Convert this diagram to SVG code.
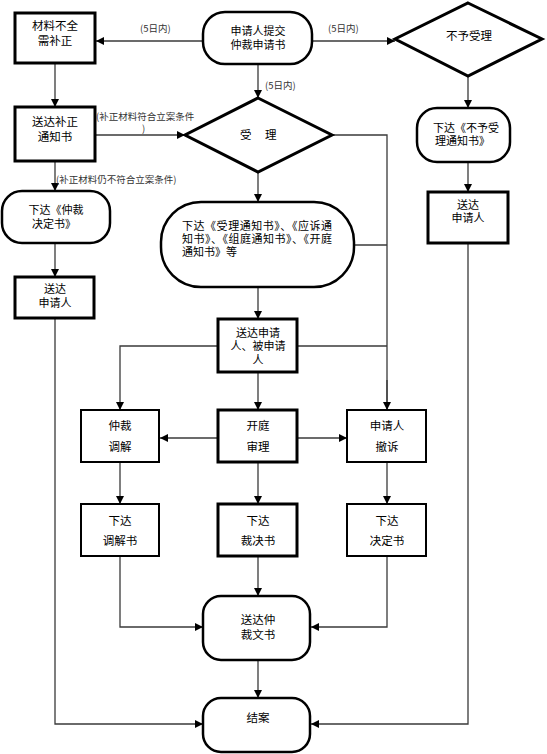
<svg xmlns="http://www.w3.org/2000/svg" width="547" height="754" viewBox="0 0 547 754">
<defs>
<marker id="arr" markerUnits="userSpaceOnUse" markerWidth="9" markerHeight="9" refX="8" refY="4" orient="auto">
<path d="M0,0 L8,4 L0,8 z" fill="#000"/>
</marker>
<style>
.t{font-family:"Noto Sans CJK SC","Liberation Sans",sans-serif;font-size:11.5px;fill:#000;text-anchor:middle}
.tl{font-family:"Noto Sans CJK SC","Liberation Sans",sans-serif;font-size:11.5px;fill:#000}
.tn{font-family:"Noto Sans CJK SC","Liberation Sans",sans-serif;font-size:11px;fill:#000;text-anchor:middle}
.tnl{font-family:"Noto Sans CJK SC","Liberation Sans",sans-serif;font-size:11px;fill:#000}
.lb{font-family:"Noto Sans CJK SC","Liberation Sans",sans-serif;font-size:9.5px;fill:#333}
.thick{fill:#fff;stroke:#000;stroke-width:3}
.pill{fill:#fff;stroke:#000;stroke-width:2.5}
.med{fill:#fff;stroke:#000;stroke-width:2}
.c{fill:none;stroke:#3a3a3a;stroke-width:1.3}
.ca{fill:none;stroke:#3a3a3a;stroke-width:1.3;marker-end:url(#arr)}
</style>
</defs>
<rect width="547" height="754" fill="#fff"/>

<g id="connectors">
<line class="ca" x1="203" y1="41" x2="96" y2="41"/>
<line class="ca" x1="312" y1="41" x2="395" y2="41"/>
<line class="ca" x1="258" y1="64" x2="258" y2="98"/>
<line class="ca" x1="55" y1="63" x2="55" y2="107"/>
<line class="ca" x1="95" y1="135" x2="185" y2="135"/>
<line class="ca" x1="55" y1="161" x2="55" y2="191"/>
<line class="ca" x1="55" y1="243" x2="55" y2="277"/>
<line class="ca" x1="468" y1="76" x2="468" y2="108"/>
<line class="ca" x1="468" y1="162" x2="468" y2="192"/>
<polyline class="ca" points="468,243 468,724 311,724"/>
<polyline class="c" points="332,135 387,135 387,410"/>
<line class="ca" x1="387" y1="380" x2="387" y2="410"/>
<line class="c" x1="354" y1="245" x2="387" y2="245"/>
<line class="c" x1="297" y1="346" x2="387" y2="346"/>
<line class="ca" x1="258" y1="172" x2="258" y2="202"/>
<line class="ca" x1="258" y1="287" x2="258" y2="319"/>
<polyline class="ca" points="218,346 120,346 120,410"/>
<line class="ca" x1="258" y1="372" x2="258" y2="410"/>
<line class="ca" x1="218" y1="438" x2="160" y2="438"/>
<line class="ca" x1="297" y1="438" x2="347" y2="438"/>
<line class="ca" x1="120" y1="462" x2="120" y2="504"/>
<line class="ca" x1="258" y1="462" x2="258" y2="504"/>
<line class="ca" x1="387" y1="462" x2="387" y2="504"/>
<polyline class="ca" points="120,556 120,627 203,627"/>
<polyline class="ca" points="387,556 387,627 311,627"/>
<line class="ca" x1="258" y1="556" x2="258" y2="596"/>
<line class="ca" x1="258" y1="660" x2="258" y2="698"/>
<polyline class="ca" points="55,318 55,724 203,724"/>
<text class="lb" x="140" y="32">(5日内)</text>
<text class="lb" x="328" y="32">(5日内)</text>
<text class="lb" x="265" y="89">(5日内)</text>
<text class="lb" x="96" y="120">(补正材料符合立案条件</text>
<text class="lb" x="142" y="132">)</text>
<text class="lb" x="56" y="183">(补正材料仍不符合立案条件)</text>
</g>

<g id="n_bq">
<rect class="thick" x="15" y="13" width="80" height="50"/>
<text class="t" x="55" y="30">材料不全</text>
<text class="t" x="55" y="45">需补正</text>
</g>
<g id="n_apply">
<rect class="pill" x="203" y="12" width="109" height="52" rx="22" ry="22"/>
<text class="tn" x="258" y="35">申请人提交</text>
<text class="tn" x="258" y="49">仲裁申请书</text>
</g>
<g id="n_reject">
<polygon class="thick" points="468,3 542,39 468,76 395,39"/>
<text class="t" x="469" y="40">不予受理</text>
</g>
<g id="n_notice">
<rect class="thick" x="15" y="107" width="80" height="54"/>
<text class="t" x="55" y="126">送达补正</text>
<text class="t" x="55" y="141">通知书</text>
</g>
<g id="n_accept">
<polygon class="thick" points="258,98 332,135 258,172 185,135"/>
<text class="tl" x="240" y="139">受</text>
<text class="tl" x="265" y="139">理</text>
</g>
<g id="n_rejnotice">
<rect class="pill" x="417" y="108" width="93" height="54" rx="20" ry="20"/>
<text class="tnl" x="433" y="132">下达《不予受</text>
<text class="tnl" x="435" y="145">理通知书》</text>
</g>
<g id="n_decision">
<rect class="pill" x="2" y="191" width="108" height="52" rx="20" ry="20"/>
<text class="tn" x="56" y="214">下达《仲裁</text>
<text class="tn" x="54" y="228">决定书》</text>
</g>
<g id="n_serve_l">
<rect class="thick" x="15" y="277" width="79" height="41"/>
<text class="tn" x="55" y="293">送达</text>
<text class="tn" x="55" y="307">申请人</text>
</g>
<g id="n_big">
<rect class="pill" x="161" y="202" width="193" height="85" rx="40" ry="40"/>
<text class="tnl" x="182" y="230" textLength="150">下达《受理通知书》、《应诉通</text>
<text class="tnl" x="182" y="243" textLength="150">知书》、《组庭通知书》、《开庭</text>
<text class="tnl" x="182" y="256">通知书》等</text>
</g>
<g id="n_serve_r">
<rect class="thick" x="428" y="192" width="80" height="51"/>
<text class="tn" x="468" y="209">送达</text>
<text class="tn" x="468" y="222">申请人</text>
</g>
<g id="n_serve_both">
<rect class="thick" x="218" y="319" width="79" height="53"/>
<text class="tn" x="258" y="337">送达申请</text>
<text class="tn" x="258" y="350">人、被申请</text>
<text class="tn" x="258" y="364">人</text>
</g>
<g id="n_mediate">
<rect class="med" x="81" y="410" width="78" height="52"/>
<text class="t" x="120" y="430">仲裁</text>
<text class="t" x="120" y="451">调解</text>
</g>
<g id="n_hearing">
<rect class="thick" x="218" y="410" width="79" height="52"/>
<text class="t" x="258" y="430">开庭</text>
<text class="t" x="258" y="451">审理</text>
</g>
<g id="n_withdraw">
<rect class="med" x="347" y="410" width="79" height="52"/>
<text class="t" x="387" y="430">申请人</text>
<text class="t" x="387" y="451">撤诉</text>
</g>
<g id="n_medbook">
<rect class="med" x="81" y="504" width="78" height="52"/>
<text class="t" x="120" y="525">下达</text>
<text class="t" x="120" y="545">调解书</text>
</g>
<g id="n_award">
<rect class="thick" x="218" y="504" width="79" height="52"/>
<text class="t" x="258" y="525">下达</text>
<text class="t" x="258" y="545">裁决书</text>
</g>
<g id="n_decbook">
<rect class="med" x="347" y="504" width="79" height="52"/>
<text class="t" x="387" y="525">下达</text>
<text class="t" x="387" y="545">决定书</text>
</g>
<g id="n_servedoc">
<rect class="pill" x="203" y="596" width="107" height="64" rx="18" ry="18"/>
<text class="t" x="258" y="624">送达仲</text>
<text class="t" x="258" y="639">裁文书</text>
</g>
<g id="n_close">
<rect class="pill" x="203" y="698" width="107" height="54" rx="18" ry="18"/>
<text class="t" x="258" y="722">结案</text>
</g>
</svg>
